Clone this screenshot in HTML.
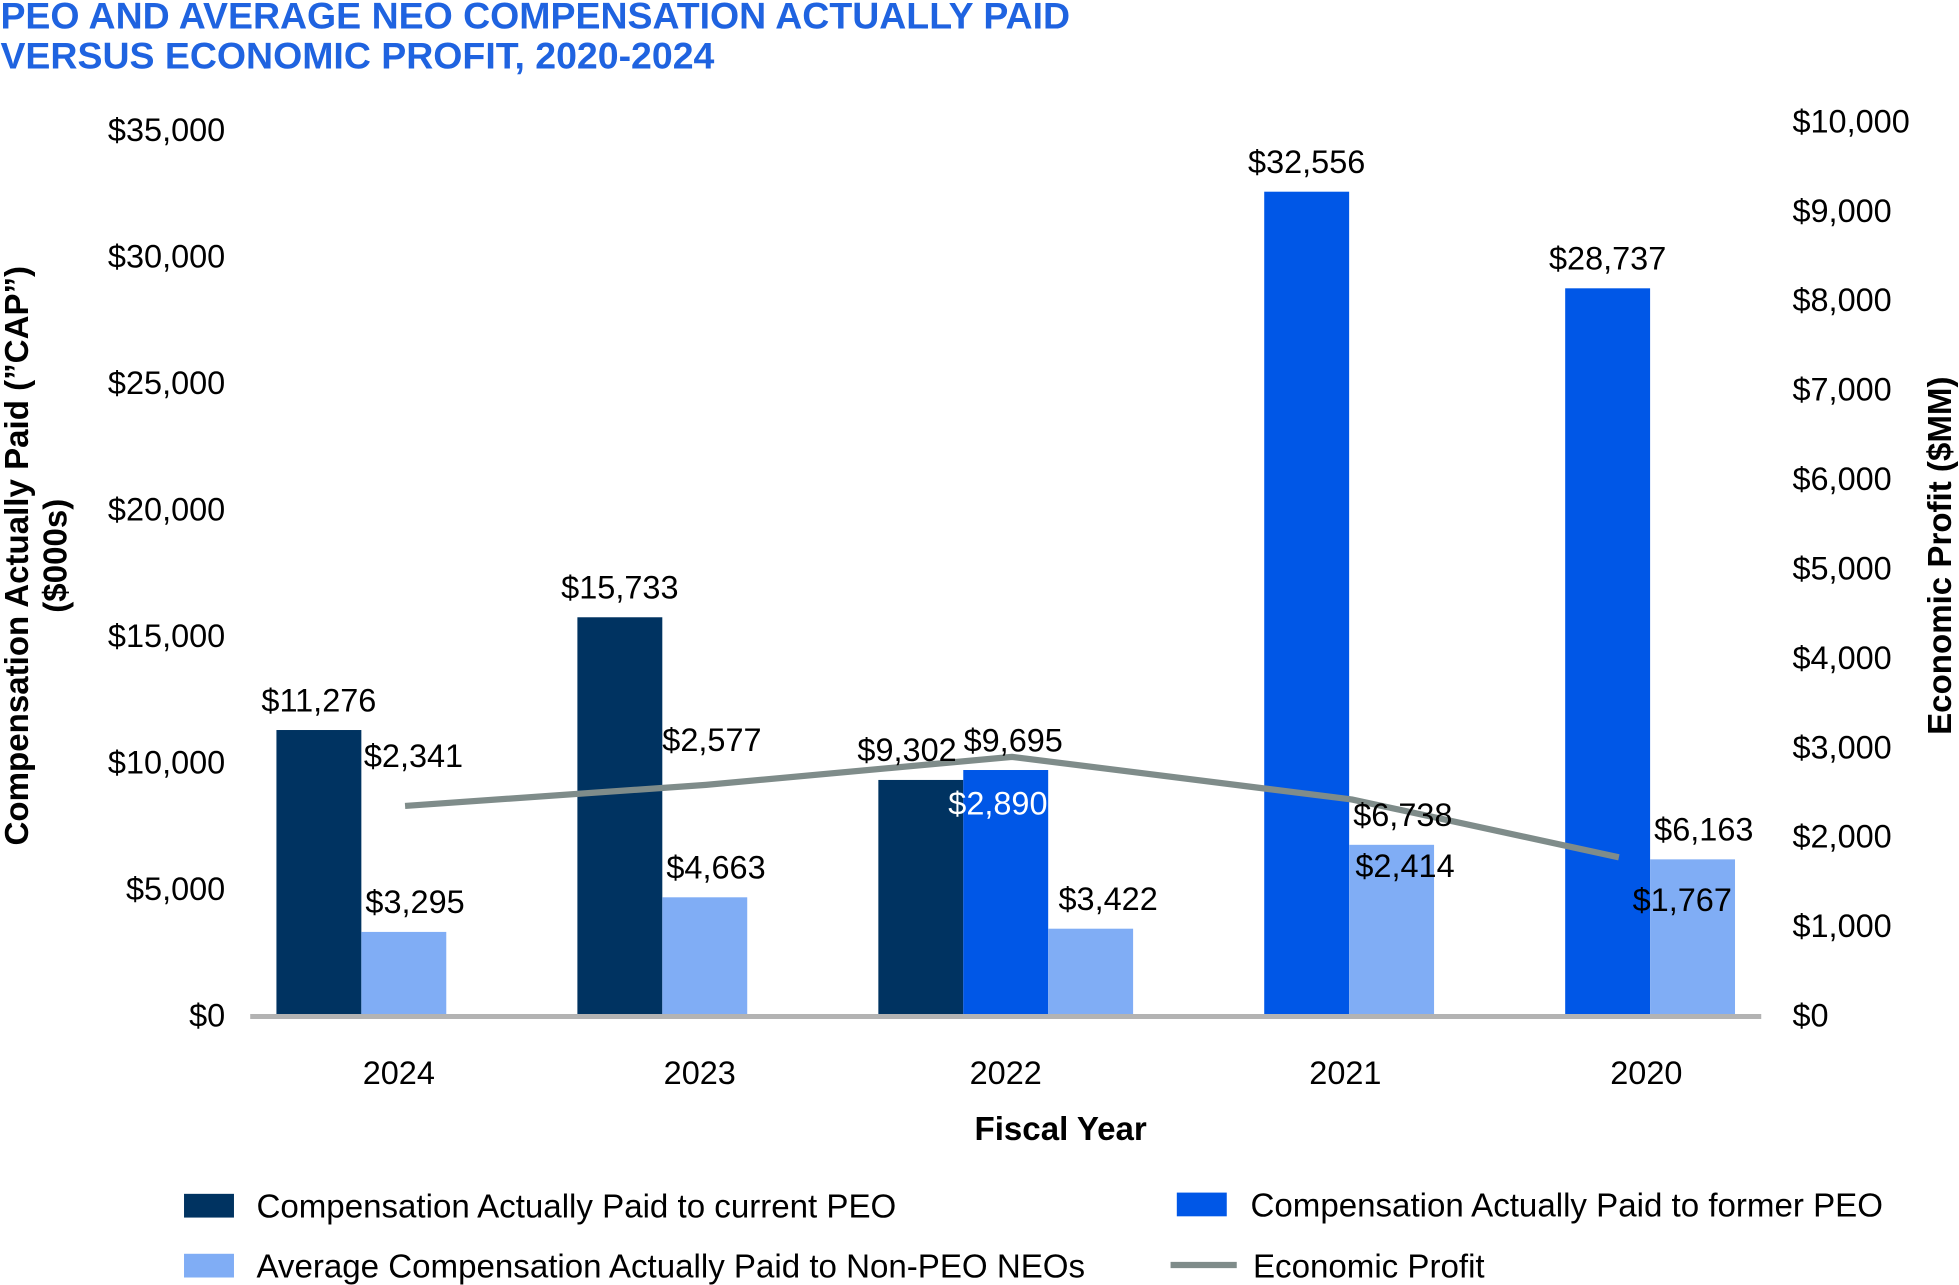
<!DOCTYPE html>
<html><head><meta charset="utf-8"><style>
html,body{margin:0;padding:0;background:#fff;}
svg{display:block;font-family:"Liberation Sans",Arial,sans-serif;}
</style></head><body>
<svg id="chart" width="1959" height="1285" viewBox="0 0 1568 1029" xmlns="http://www.w3.org/2000/svg">
<g fill="#1f63e0" font-weight="bold" font-size="30">
<text x="0" y="23">PEO AND AVERAGE NEO COMPENSATION ACTUALLY PAID</text>
<text x="0" y="55">VERSUS ECONOMIC PROFIT, 2020-2024</text>
</g>
<g id="leftTicks"></g>
<g id="rightTicks"></g>
<g id="bars"></g>
<line x1="200" x2="1410" y1="814" y2="814" stroke="#b3b3b3" stroke-width="4"/>
<g id="line"></g>
<g id="labels"></g>
<g id="years"></g>
<text x="849" y="913" font-size="26.5" font-weight="bold" text-anchor="middle">Fiscal Year</text>
<g font-size="26.5" font-weight="bold" text-anchor="middle">
<text transform="translate(22,445) rotate(-90)">Compensation Actually Paid (”CAP”)</text>
<text transform="translate(53,445) rotate(-90)">($000s)</text>
</g>
<text transform="translate(1562,445) rotate(-90)" font-size="26.5" font-weight="bold" text-anchor="middle">Economic Profit ($MM)</text>
<g font-size="26.5">
<g><rect x="147" y="956" width="40" height="19" fill="#003361"/><text x="205" y="975">Compensation Actually Paid to current PEO</text></g>
<g><rect x="942" y="955" width="40" height="19" fill="#0057e7"/><text x="1001" y="974">Compensation Actually Paid to former PEO</text></g>
<g><rect x="147" y="1004" width="40" height="19" fill="#80adf5"/><text x="205" y="1023">Average Compensation Actually Paid to Non-PEO NEOs</text></g>
<g><line x1="937" x2="990" y1="1013" y2="1013" stroke="#7f8c8a" stroke-width="5"/><text x="1003" y="1023">Economic Profit</text></g>
</g>
</svg>
<script>
const years=["2024","2023","2022","2021","2020"];
const currentPEO=[11276,15733,9302,null,null];
const formerPEO=[null,null,9695,32556,28737];
const nonPEO=[3295,4663,3422,6738,6163];
const econProfit=[2341,2577,2890,2414,1767];
const leftTicks=[0,5000,10000,15000,20000,25000,30000,35000];
const rightTicks=[0,1000,2000,3000,4000,5000,6000,7000,8000,9000,10000];
const NS="http://www.w3.org/2000/svg";
const y0=813;
const yL=v=>y0-v*(709/35000);
const yR=v=>y0-v*(716/10000);
const fmt=v=>"$"+v.toLocaleString("en-US");
function mk(tag,attrs,parent,txt){const e=document.createElementNS(NS,tag);for(const k in attrs)e.setAttribute(k,attrs[k]);if(txt!==undefined)e.textContent=txt;parent.appendChild(e);return e;}
const gL=document.getElementById('leftTicks'),gR=document.getElementById('rightTicks'),gB=document.getElementById('bars'),gLn=document.getElementById('line'),gLab=document.getElementById('labels'),gY=document.getElementById('years');
const FS=26;
leftTicks.forEach(t=>{const e=mk('text',{x:180,y:yL(t)+9,'font-size':FS,'text-anchor':'end'},gL,fmt(t));

});
rightTicks.forEach(t=>{const e=mk('text',{x:1435,y:yR(t)+9,'font-size':FS},gR,fmt(t));

});
const bw=68,step=241,x0=221;
const cols={c:"#003361",f:"#0057e7",n:"#80adf5"};
const labShift={c:0,f:0,n:9};
const linePts=[];
years.forEach((yr,i)=>{
  let x=x0+i*step;const vis=[];
  const both=currentPEO[i]!=null&&formerPEO[i]!=null;
  const series=[["c",currentPEO[i]],["f",formerPEO[i]],["n",nonPEO[i]]];
  series.forEach(([k,v])=>{
    if(k==="f"&&v==null&&currentPEO[i]!=null)return;
    if(v!=null){
      const r=mk('rect',{x:x,y:yL(v),width:bw,height:y0-yL(v),fill:cols[k]},gB);
      
      
      const sh=labShift[k]+(both?(k==="c"?-11:(k==="f"?6:5)):0);
      const t=mk('text',{x:x+bw/2+sh,y:yL(v)-15,'font-size':FS,'text-anchor':'middle'},gLab,fmt(v));
      
      
      vis.push(x);
    }
    x+=bw;
  });
  const mid=(vis[0]+vis[vis.length-1]+bw)/2+(vis.length===2?(currentPEO[i]!=null?30:-3):0);
  const yt=mk('text',{x:mid,y:868,'font-size':FS,'text-anchor':'middle'},gY,yr);
  
  
  linePts.push([i===4?mid-22:mid+5,yR(econProfit[i])]);
});
const pl=mk('polyline',{points:linePts.map(p=>p.join(',')).join(' '),fill:'none',stroke:'#7f8c8a','stroke-width':5,'stroke-linejoin':'round'},gLn);


const epOff=[[-33,-31,'#000'],[-35,-27,'#000'],[-51,46,'#fff'],[3,62,'#000'],[11,43,'#000']];
econProfit.forEach((v,i)=>{const p=linePts[i],o=epOff[i];
  const t=mk('text',{x:p[0]+o[0],y:p[1]+o[1],'font-size':FS,fill:o[2]},gLab,fmt(v));
  
  });
</script>
</body></html>
